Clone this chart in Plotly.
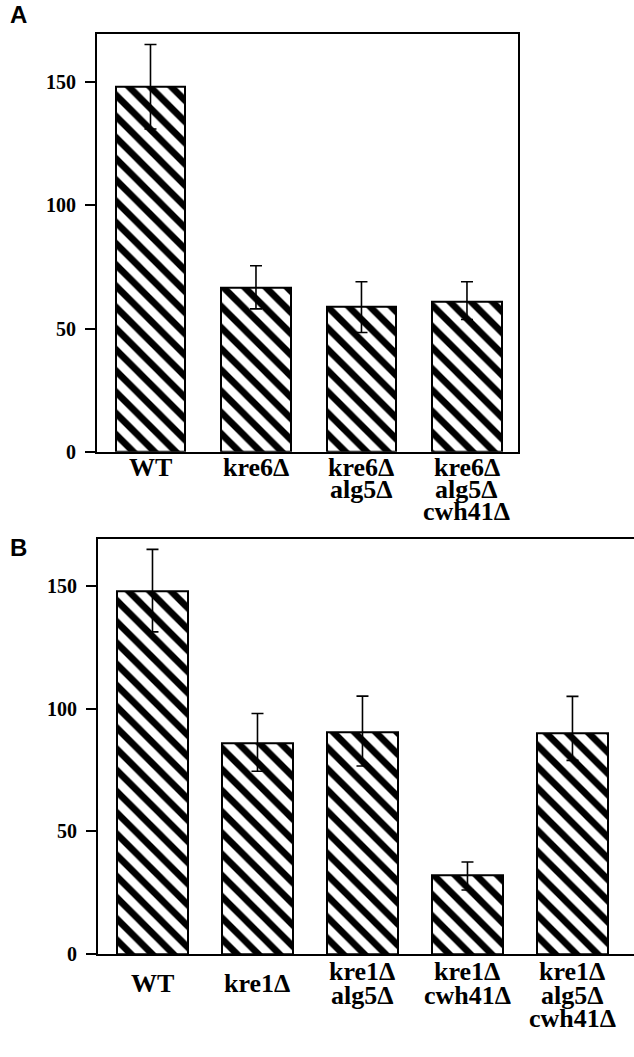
import plotly.graph_objects as go

# ---------------- data ----------------
cats_a = ["WT", "kre6Δ", "kre6Δ<br>alg5Δ", "kre6Δ<br>alg5Δ<br>cwh41Δ"]
vals_a = [148, 66.5, 58.8, 60.8]
err_up_a = [17.3, 9.0, 10.2, 8.2]
err_dn_a = [17.0, 8.5, 10.4, 7.1]

cats_b = ["WT", "kre1Δ", "kre1Δ<br>alg5Δ", "kre1Δ<br>cwh41Δ", "kre1Δ<br>alg5Δ<br>cwh41Δ"]
vals_b = [147.9, 86.0, 90.3, 31.9, 89.8]
err_up_b = [17.0, 12.0, 14.8, 5.6, 15.2]
err_dn_b = [16.6, 11.5, 13.7, 5.8, 10.9]

yticks = [0, 50, 100, 150]

# ---------------- layout geometry ----------------
W, H = 634, 1057
def px_x(p):
    return p / W
def px_y(p):
    return 1 - p / H

SERIF = "Liberation Serif"
SANS = "Liberation Sans"

fig = go.Figure()

pattern = dict(shape="\\", size=15, solidity=0.45, fgcolor="black", bgcolor="white", fillmode="replace")

fig.add_trace(go.Bar(
    x=list(range(len(cats_a))), y=vals_a, width=0.66,
    marker=dict(color="white", pattern=pattern, line=dict(color="black", width=2)),
    error_y=dict(type="data", symmetric=False, array=err_up_a, arrayminus=err_dn_a,
                 color="black", thickness=1.6, width=6),
    xaxis="x", yaxis="y", showlegend=False, hoverinfo="skip"))

fig.add_trace(go.Bar(
    x=list(range(len(cats_b))), y=vals_b, width=0.68,
    marker=dict(color="white", pattern=pattern, line=dict(color="black", width=2)),
    error_y=dict(type="data", symmetric=False, array=err_up_b, arrayminus=err_dn_b,
                 color="black", thickness=1.6, width=6),
    xaxis="x2", yaxis="y2", showlegend=False, hoverinfo="skip"))

yaxis_common = dict(
    tickvals=yticks, ticktext=[str(v) for v in yticks],
    ticks="outside", ticklen=10, tickwidth=2, tickcolor="black",
    showline=True, linecolor="black", linewidth=2,
    showgrid=False, zeroline=False,
    tickfont=dict(family=SERIF, size=20, color="black", weight="bold"),
    ticklabelstandoff=5,
)
xaxis_common = dict(
    showline=True, linecolor="black", linewidth=2,
    showgrid=False, zeroline=False, ticks="", showticklabels=False,
    mirror=True,
)

fig.update_layout(
    width=W, height=H,
    margin=dict(l=0, r=0, t=0, b=0),
    paper_bgcolor="white", plot_bgcolor="white",
    bargap=0,
    xaxis=dict(domain=[px_x(97), px_x(517.5)], range=[-0.507, 3.479], anchor="y", **xaxis_common),
    yaxis=dict(domain=[px_y(456.5), px_y(34)], range=[0, 169.7], anchor="x", mirror=True, **yaxis_common),
    xaxis2=dict(domain=[px_x(98), 1.0], range=[-0.519, 4.586], anchor="y2", **xaxis_common),
    yaxis2=dict(domain=[px_y(964), px_y(545)], range=[0, 169], anchor="x2", mirror=False, **yaxis_common),
)

annotations = []
# category labels (tightly stacked lines, as in the reference)
def add_labels(cats, xref, yref, first, pitch, single_extra):
    for i, c in enumerate(cats):
        lines = c.split("<br>")
        base = first + (single_extra if len(lines) == 1 else 0)
        for j, ln in enumerate(lines):
            annotations.append(dict(
                x=i, xref=xref, y=0, yref=yref + " domain",
                text="<b>" + ln + "</b>", showarrow=False,
                xanchor="center", yanchor="middle",
                yshift=-(base + j * pitch),
                font=dict(family=SERIF, size=26, color="black")))

add_labels(cats_a, "x", "y", 16, 22, 0)
add_labels(cats_b, "x2", "y2", 18, 23.5, 12)

# panel letters
annotations.append(dict(x=px_x(9), y=1.0, xref="paper", yref="paper", text="<b>A</b>",
                        showarrow=False, xanchor="left", yanchor="top", borderpad=0,
                        font=dict(family=SANS, size=24, color="black")))
annotations.append(dict(x=px_x(9), y=px_y(539), xref="paper", yref="paper", text="<b>B</b>",
                        showarrow=False, xanchor="left", yanchor="top", borderpad=0,
                        font=dict(family=SANS, size=24, color="black")))

fig.update_layout(annotations=annotations)

# remove the default 8px page margin so the figure fills the window exactly
fig.write_html("out.html", config={"displayModeBar": False},
               post_script="document.body.style.margin='0px';")
